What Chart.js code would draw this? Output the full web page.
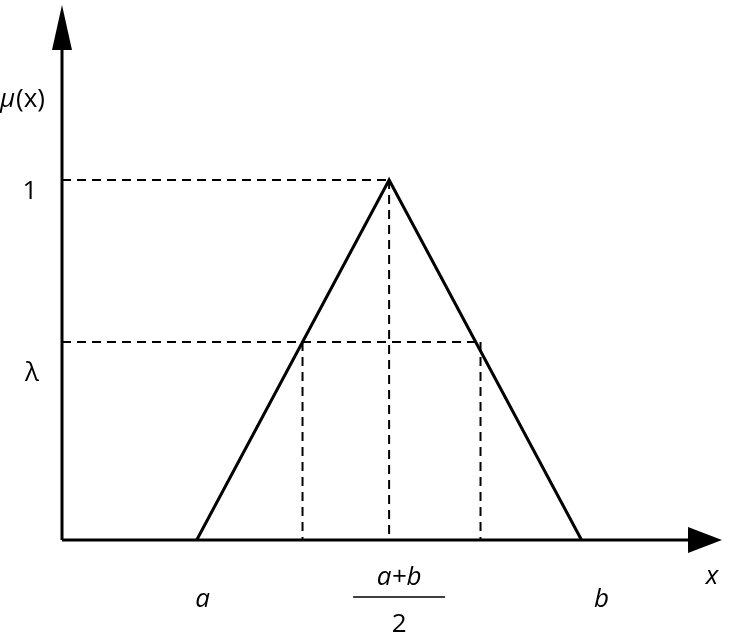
<!DOCTYPE html>
<html><head><meta charset="utf-8">
<script src="https://cdn.jsdelivr.net/npm/chart.js@4"></script>
<style>html,body{margin:0;padding:0;background:#fff}#c{display:block}</style>
</head><body>
<div style="width:736px;height:639px"><canvas id="c"></canvas></div>
<script>
const A = 0, B = 2, MID = 1;
const LAMBDA = 0.55;
const XMIN = -0.70, XMAX = 2.73;
const YMAX = 1.486;
const triangle = [{x:A,y:0},{x:MID,y:1},{x:B,y:0}];
const lamL = A + LAMBDA*(MID-A), lamR = B - LAMBDA*(B-MID) + 0.025;
const dashed = [
  [{x:XMIN,y:1},{x:MID,y:1}],
  [{x:MID,y:1},{x:MID,y:0}],
  [{x:XMIN,y:LAMBDA},{x:lamR,y:LAMBDA}],
  [{x:lamL,y:LAMBDA},{x:lamL,y:0}],
  [{x:lamR,y:LAMBDA},{x:lamR,y:0}]
];
const F = '"Open Sans", "Noto Sans", sans-serif';
const deco = {
  id:'deco',
  afterDatasetsDraw(ch){
    const c=ch.ctx, xs=ch.scales.x, ys=ch.scales.y;
    const x0=xs.getPixelForValue(XMIN), y0=ys.getPixelForValue(0);
    const xe=xs.getPixelForValue(XMAX), ye=ys.getPixelForValue(YMAX);
    c.save(); c.strokeStyle='#000'; c.fillStyle='#000'; c.lineWidth=3;
    c.beginPath(); c.moveTo(x0,y0); c.lineTo(xe-30,y0); c.moveTo(x0,y0); c.lineTo(x0,ye+30); c.stroke();
    c.beginPath(); c.moveTo(xe,y0); c.lineTo(xe-34,y0-13); c.lineTo(xe-34,y0+13); c.closePath(); c.fill();
    c.beginPath(); c.moveTo(x0,ye); c.lineTo(x0-10,ye+45); c.lineTo(x0+10,ye+45); c.closePath(); c.fill();
    c.textBaseline='middle'; c.textAlign='center';
    c.font='26px '+F;
    c.fillText('1', 30, ys.getPixelForValue(1)+12);
    c.fillText('λ', 32, ys.getPixelForValue(LAMBDA)+32);
    c.textAlign='left';
    c.font='italic 26px '+F; c.fillText('μ', 0, 100);
    c.font='26px '+F; c.fillText('(x)', 16, 100);
    c.textAlign='center';
    c.font='italic 26px '+F;
    c.fillText('a', xs.getPixelForValue(A)+6, 600);
    c.fillText('b', xs.getPixelForValue(B)+20, 600);
    c.fillText('x', 712, 577);
    const mx=xs.getPixelForValue(MID)+10;
    c.fillText('a+b', mx, 578);
    c.lineWidth=1.5; c.beginPath(); c.moveTo(mx-46,597); c.lineTo(mx+46,597); c.stroke();
    c.font='26px '+F; c.fillText('2', mx, 625);
    c.restore();
  }
};
const ds=[{data:triangle,borderColor:'#000',borderWidth:3,pointRadius:0,fill:false,clip:false}];
dashed.forEach(d=>ds.push({data:d,borderColor:'#000',borderWidth:2,borderDash:[9,6],pointRadius:0,fill:false,clip:false}));
new Chart(document.getElementById('c'),{
  type:'line',
  data:{datasets:ds},
  options:{responsive:true,maintainAspectRatio:false,animation:false,
    layout:{padding:{left:62,top:5,right:14,bottom:99}},
    plugins:{legend:{display:false},tooltip:{enabled:false}},
    scales:{
      x:{type:'linear',min:XMIN,max:XMAX,display:false},
      y:{type:'linear',min:0,max:YMAX,display:false}
    }},
  plugins:[deco]
});
</script></body></html>
